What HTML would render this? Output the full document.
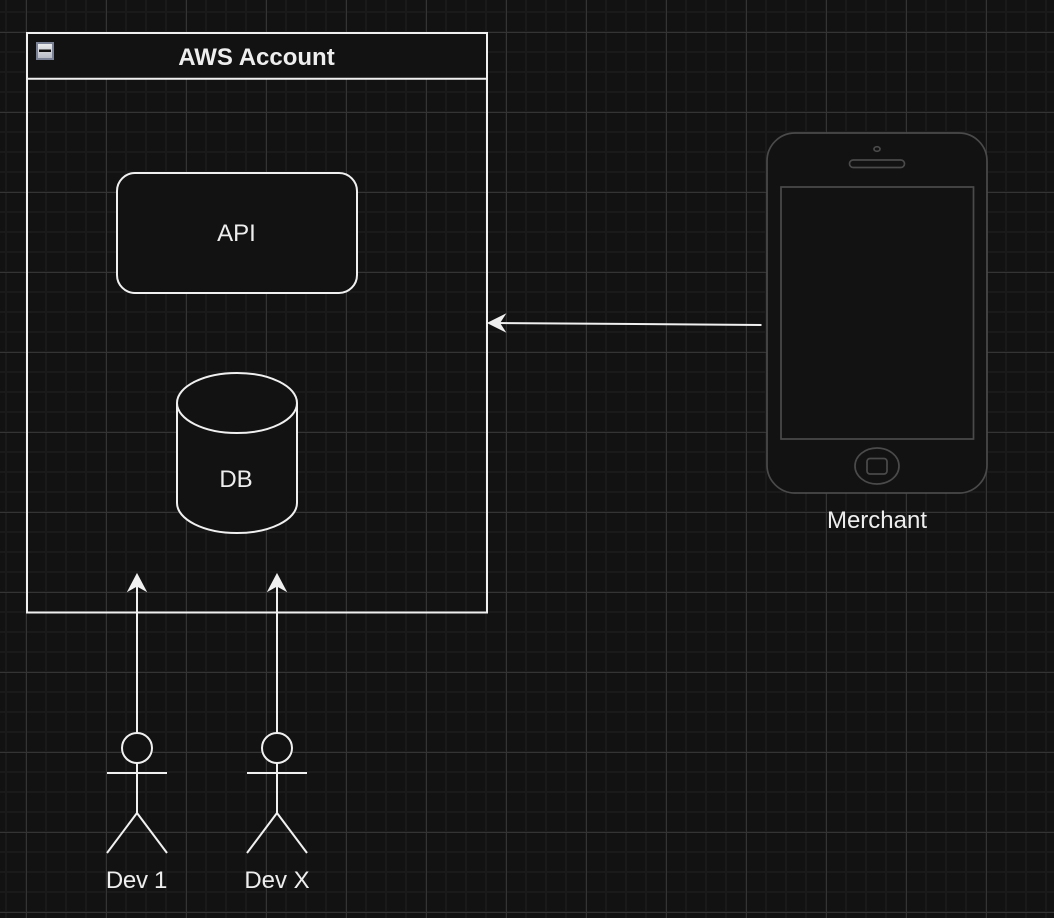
<!DOCTYPE html>
<html>
<head>
<meta charset="utf-8">
<style>
html,body{margin:0;padding:0;background:#121212;width:1054px;height:918px;overflow:hidden}
svg{display:block}
text{font-family:"Liberation Sans",Arial,sans-serif;fill:#eeeeee;text-anchor:middle}
</style>
</head>
<body>
<svg width="1054" height="918" viewBox="0 0 1054 918" xmlns="http://www.w3.org/2000/svg">
<defs>
<pattern id="minor" x="6" y="12" width="20" height="20" patternUnits="userSpaceOnUse">
<path d="M0 0V20M0 0H20M20 0V20M0 20H20" stroke="#1a1a1a" stroke-width="2" fill="none"/>
</pattern>
<pattern id="major" x="26" y="32" width="80" height="80" patternUnits="userSpaceOnUse">
<path d="M.5 0V80M0 .5H80" stroke="#343434" stroke-width="1" fill="none"/>
</pattern>
<linearGradient id="ic" x1="0" y1="0" x2="0" y2="1">
<stop offset="0" stop-color="#eeeeee"/>
<stop offset="1" stop-color="#b4b8c2"/>
</linearGradient>
</defs>
<rect width="1054" height="918" fill="#121212"/>
<rect width="1054" height="918" fill="url(#minor)"/>
<rect width="1054" height="918" fill="url(#major)"/>

<!-- AWS Account container -->
<rect x="27" y="33" width="460" height="579.500" fill="none" stroke="#f0f0f0" stroke-width="2"/>
<rect x="28" y="34" width="458" height="44" fill="#121212"/>
<line x1="27" y1="78.800" x2="487" y2="78.800" stroke="#f0f0f0" stroke-width="2"/>
<rect x="37" y="43" width="16" height="16" fill="url(#ic)" stroke="#7c8296" stroke-width="2"/>
<rect x="39" y="49.500" width="12" height="2.500" fill="#111"/>
<text x="256.500" y="65" font-size="24" font-weight="bold">AWS Account</text>

<!-- API -->
<rect x="117" y="173" width="240" height="120" rx="18" ry="18" fill="#121212" stroke="#f0f0f0" stroke-width="2"/>
<text x="236.500" y="241" font-size="24">API</text>

<!-- DB -->
<path d="M177 403C177 386.400 204 373 237 373S297 386.400 297 403V503C297 519.600 270 533 237 533S177 519.600 177 503Z" fill="#121212" stroke="#f0f0f0" stroke-width="2"/>
<path d="M177 403C177 419.600 204 433 237 433S297 419.600 297 403" fill="none" stroke="#f0f0f0" stroke-width="2"/>
<text x="236" y="487" font-size="24">DB</text>

<!-- Phone -->
<g fill="#121212" stroke="#4a4a4a" stroke-width="1.700">
<rect x="767" y="133" width="220" height="360" rx="28" ry="28"/>
<rect x="781" y="187" width="192.500" height="252" fill="#121212"/>
<ellipse cx="877" cy="149" rx="3" ry="2.300"/>
<rect x="849.500" y="160" width="55" height="7.500" rx="3.700" ry="3.700"/>
<ellipse cx="877" cy="466" rx="22" ry="18"/>
<rect x="867" y="458.500" width="20" height="15.500" rx="3" ry="3"/>
</g>
<text x="877" y="528" font-size="24">Merchant</text>

<!-- Merchant arrow -->
<line x1="761.500" y1="325" x2="497" y2="323" stroke="#f0f0f0" stroke-width="2"/>
<path d="M488 323L505 314.500L499.500 323L505 331.500Z" fill="#f0f0f0" stroke="#f0f0f0" stroke-width="1"/>

<!-- Dev arrows -->
<g stroke="#f0f0f0" stroke-width="2" fill="none">
<line x1="137" y1="733" x2="137" y2="585"/>
<line x1="277" y1="733" x2="277" y2="585"/>
</g>
<path d="M137 574L146 591L137 586L128 591Z" fill="#f0f0f0" stroke="#f0f0f0" stroke-width="1"/>
<path d="M277 574L286 591L277 586L268 591Z" fill="#f0f0f0" stroke="#f0f0f0" stroke-width="1"/>

<!-- Actors -->
<g stroke="#f0f0f0" stroke-width="2" fill="none">
<circle cx="137" cy="748" r="15" fill="#121212"/>
<path d="M137 763V813M107 773H167M137 813L107 853M137 813L167 853"/>
<circle cx="277" cy="748" r="15" fill="#121212"/>
<path d="M277 763V813M247 773H307M277 813L247 853M277 813L307 853"/>
</g>
<text x="136.500" y="888" font-size="24" letter-spacing="-0.300">Dev 1</text>
<text x="277" y="888" font-size="24">Dev X</text>
</svg>
</body>
</html>
